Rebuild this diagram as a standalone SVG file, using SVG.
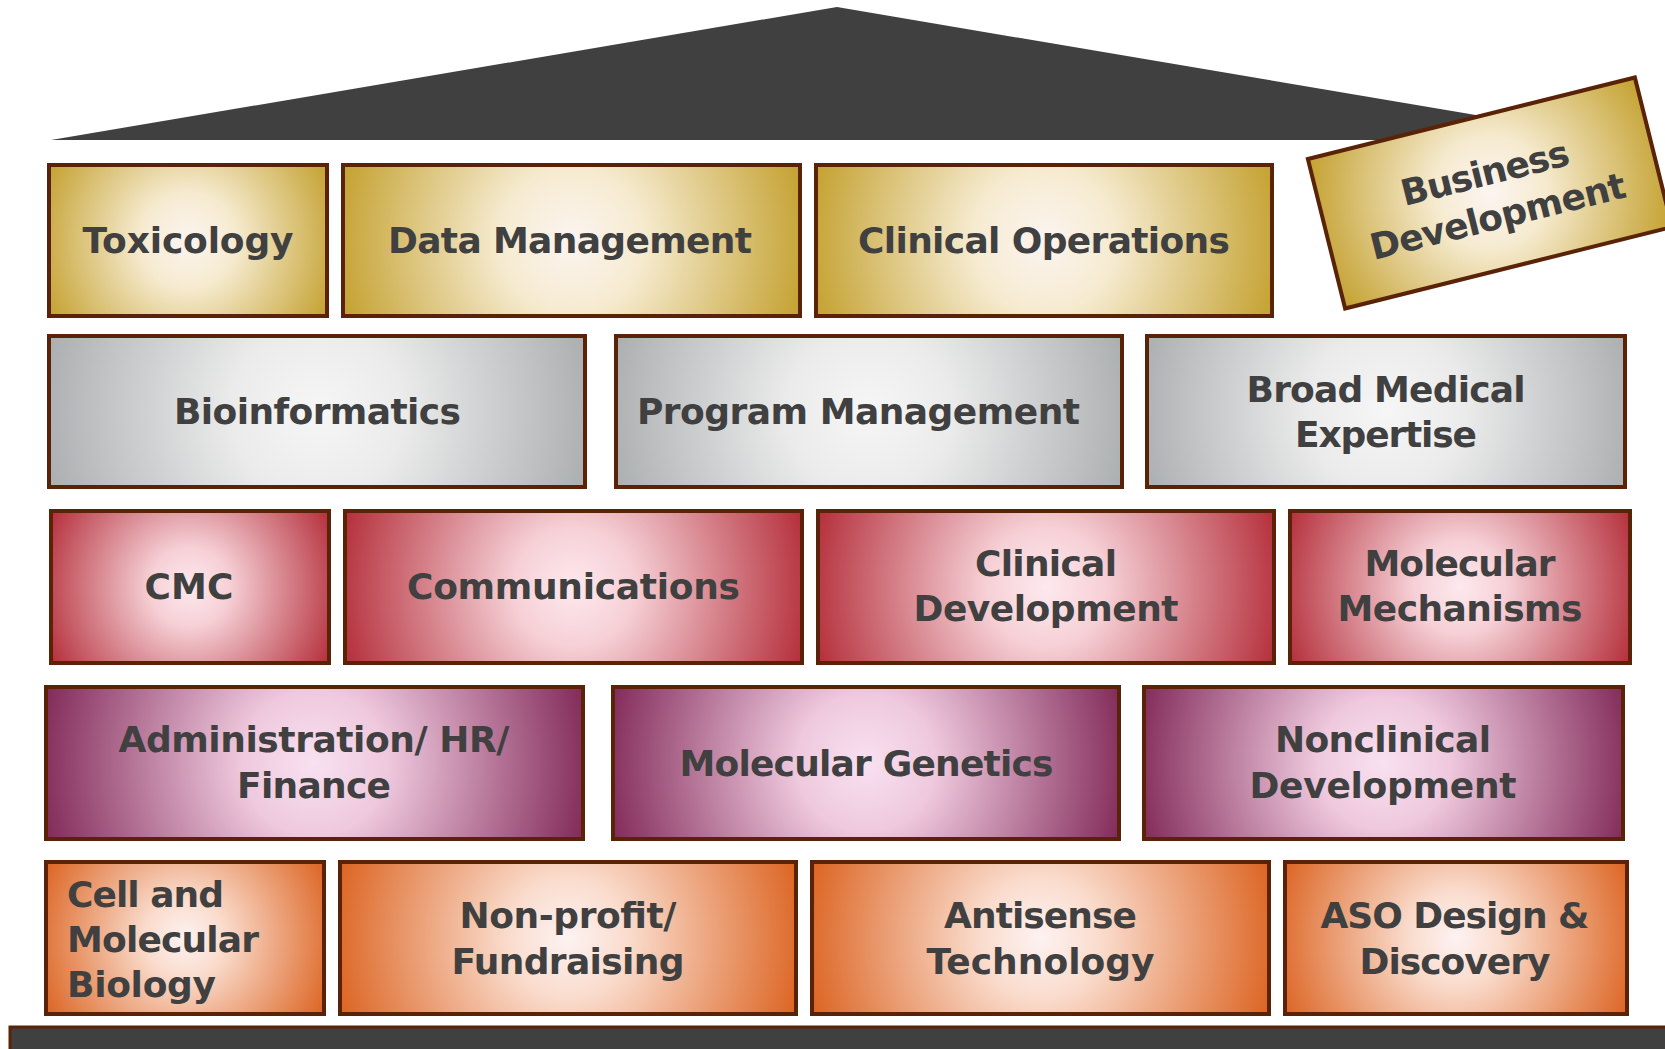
<svg xmlns="http://www.w3.org/2000/svg" width="1665" height="1049" viewBox="0 0 1665 1049">
<defs>
<style>
.box{stroke:#5a2307;stroke-width:4}
text{font-family:"DejaVu Sans","Liberation Sans",sans-serif;font-weight:700;font-size:36px;fill:#404040;text-anchor:middle}
.l{text-anchor:start}
</style>
<radialGradient id="gold"><stop offset="0" stop-color="#fcf4f1"/><stop offset="0.3" stop-color="#f6ebd0"/><stop offset="1" stop-color="#c4a130"/></radialGradient>
<radialGradient id="gray"><stop offset="0" stop-color="#f6f6f6"/><stop offset="0.3" stop-color="#ebebeb"/><stop offset="1" stop-color="#a8abad"/></radialGradient>
<radialGradient id="red"><stop offset="0" stop-color="#fde9ee"/><stop offset="0.25" stop-color="#f6d0d6"/><stop offset="1" stop-color="#b42f3b"/></radialGradient>
<radialGradient id="purple"><stop offset="0" stop-color="#f8e1f0"/><stop offset="0.25" stop-color="#efc9de"/><stop offset="1" stop-color="#7c2252"/></radialGradient>
<radialGradient id="orange"><stop offset="0" stop-color="#fdf2f2"/><stop offset="0.25" stop-color="#fadccd"/><stop offset="1" stop-color="#dc6422"/></radialGradient>
<radialGradient id="g-tox" href="#gold" gradientUnits="userSpaceOnUse" cx="188" cy="240.5" r="158"/>
<radialGradient id="g-dm" href="#gold" gradientUnits="userSpaceOnUse" cx="571.5" cy="240.5" r="240"/>
<radialGradient id="g-co" href="#gold" gradientUnits="userSpaceOnUse" cx="1044" cy="240.5" r="240"/>
<radialGradient id="g-bd" href="#gold" gradientUnits="userSpaceOnUse" cx="0" cy="0" r="185"/>
<radialGradient id="g-bio" href="#gray" gradientUnits="userSpaceOnUse" cx="317" cy="411.5" r="289"/>
<radialGradient id="g-pm" href="#gray" gradientUnits="userSpaceOnUse" cx="869" cy="411.5" r="275"/>
<radialGradient id="g-bme" href="#gray" gradientUnits="userSpaceOnUse" cx="1386" cy="411.5" r="262"/>
<radialGradient id="g-cmc" href="#red" gradientUnits="userSpaceOnUse" cx="190" cy="587" r="158"/>
<radialGradient id="g-com" href="#red" gradientUnits="userSpaceOnUse" cx="573.5" cy="587" r="240"/>
<radialGradient id="g-cd" href="#red" gradientUnits="userSpaceOnUse" cx="1046" cy="587" r="240"/>
<radialGradient id="g-mm" href="#red" gradientUnits="userSpaceOnUse" cx="1460" cy="587" r="186"/>
<radialGradient id="g-adm" href="#purple" gradientUnits="userSpaceOnUse" cx="314.5" cy="763" r="289"/>
<radialGradient id="g-mg" href="#purple" gradientUnits="userSpaceOnUse" cx="866" cy="763" r="275"/>
<radialGradient id="g-nd" href="#purple" gradientUnits="userSpaceOnUse" cx="1383.5" cy="763" r="262"/>
<radialGradient id="g-cell" href="#orange" gradientUnits="userSpaceOnUse" cx="185" cy="938" r="158"/>
<radialGradient id="g-np" href="#orange" gradientUnits="userSpaceOnUse" cx="568" cy="938" r="240"/>
<radialGradient id="g-at" href="#orange" gradientUnits="userSpaceOnUse" cx="1040.5" cy="938" r="240"/>
<radialGradient id="g-aso" href="#orange" gradientUnits="userSpaceOnUse" cx="1456" cy="938" r="188"/>
</defs>
<rect width="1665" height="1049" fill="#ffffff"/>
<g id="roof"><polygon points="51,140 837,7 1623,140" fill="#404040"/></g>
<g id="base"><rect x="10" y="1027" width="1680" height="40" fill="#404040" stroke="#5a2307" stroke-width="3"/></g>
<g id="connectors"></g>

<g id="toxicology"><rect class="box" x="49" y="165" width="278" height="151" fill="url(#g-tox)"/><text x="188" y="253" textLength="211">Toxicology</text></g>
<g id="data-management"><rect class="box" x="343" y="165" width="457" height="151" fill="url(#g-dm)"/><text x="570" y="253" textLength="364">Data Management</text></g>
<g id="clinical-operations"><rect class="box" x="816" y="165" width="456" height="151" fill="url(#g-co)"/><text x="1044" y="253" textLength="372">Clinical Operations</text></g>
<g id="business-development" transform="translate(1490,193) rotate(-14)"><rect class="box" x="-168.5" y="-77" width="337" height="154" fill="url(#g-bd)"/><text x="0" y="-8" textLength="172">Business</text><text x="2" y="37" textLength="262">Development</text></g>

<g id="bioinformatics"><rect class="box" x="49" y="336" width="536" height="151" fill="url(#g-bio)"/><text x="317.5" y="424" textLength="287">Bioinformatics</text></g>
<g id="program-management"><rect class="box" x="616" y="336" width="506" height="151" fill="url(#g-pm)"/><text x="858.5" y="424" textLength="443">Program Management</text></g>
<g id="broad-medical-expertise"><rect class="box" x="1147" y="336" width="478" height="151" fill="url(#g-bme)"/><text x="1386" y="402" textLength="279">Broad Medical</text><text x="1386" y="447" textLength="182">Expertise</text></g>

<g id="cmc"><rect class="box" x="51" y="511" width="278" height="152" fill="url(#g-cmc)"/><text x="189" y="599" textLength="89">CMC</text></g>
<g id="communications"><rect class="box" x="345" y="511" width="457" height="152" fill="url(#g-com)"/><text x="573.5" y="599" textLength="333">Communications</text></g>
<g id="clinical-development"><rect class="box" x="818" y="511" width="456" height="152" fill="url(#g-cd)"/><text x="1046" y="576" textLength="142">Clinical</text><text x="1046" y="621" textLength="265">Development</text></g>
<g id="molecular-mechanisms"><rect class="box" x="1290" y="511" width="340" height="152" fill="url(#g-mm)"/><text x="1460" y="576" textLength="191">Molecular</text><text x="1460" y="621" textLength="245">Mechanisms</text></g>

<g id="administration"><rect class="box" x="46" y="687" width="537" height="152" fill="url(#g-adm)"/><text x="314" y="752" textLength="391">Administration/ HR/</text><text x="314" y="798" textLength="154">Finance</text></g>
<g id="molecular-genetics"><rect class="box" x="613" y="687" width="506" height="152" fill="url(#g-mg)"/><text x="866.5" y="776" textLength="374">Molecular Genetics</text></g>
<g id="nonclinical-development"><rect class="box" x="1144" y="687" width="479" height="152" fill="url(#g-nd)"/><text x="1383" y="752" textLength="216">Nonclinical</text><text x="1383" y="798" textLength="267">Development</text></g>

<g id="cell-molecular-biology"><rect class="box" x="46" y="862" width="278" height="152" fill="url(#g-cell)"/><text class="l" x="67" y="907" textLength="157">Cell and</text><text class="l" x="67" y="952" textLength="192">Molecular</text><text class="l" x="67" y="997" textLength="149">Biology</text></g>
<g id="non-profit"><rect class="box" x="340" y="862" width="456" height="152" fill="url(#g-np)"/><text x="568" y="928" textLength="217">Non-profit/</text><text x="568" y="974" textLength="233">Fundraising</text></g>
<g id="antisense-technology"><rect class="box" x="812" y="862" width="457" height="152" fill="url(#g-at)"/><text x="1040.5" y="928" textLength="193">Antisense</text><text x="1040.5" y="974" textLength="228">Technology</text></g>
<g id="aso-design"><rect class="box" x="1285" y="862" width="342" height="152" fill="url(#g-aso)"/><text x="1455" y="928" textLength="269">ASO Design &amp;</text><text x="1455" y="974" textLength="191">Discovery</text></g>
</svg>
